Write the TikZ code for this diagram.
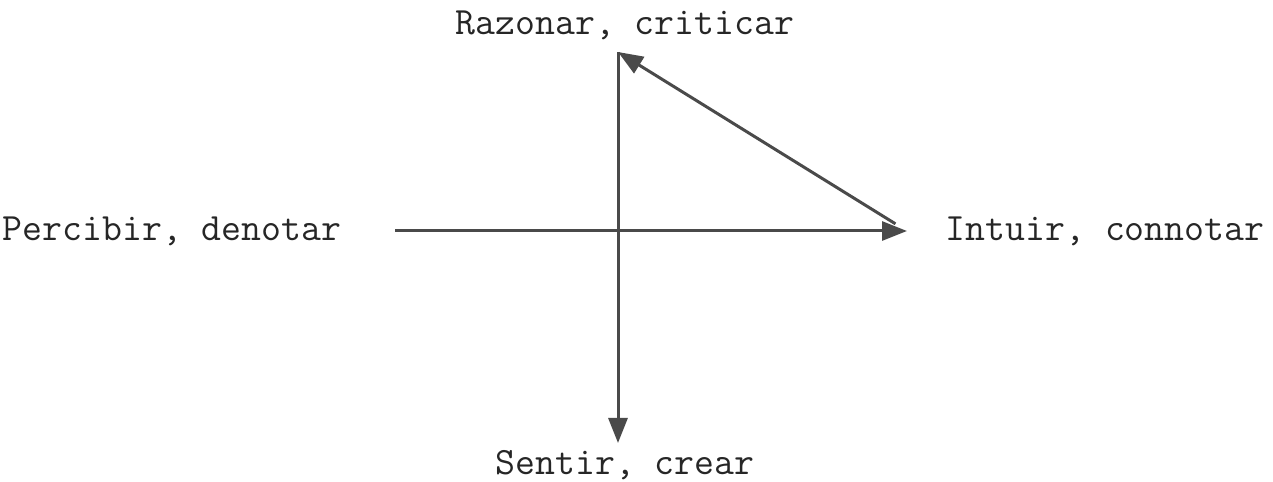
\documentclass[tikz,border=0pt]{standalone}
\usepackage{tikz}
\usetikzlibrary{arrows.meta,calc}
\definecolor{ink}{HTML}{4A4A4A}

\begin{document}
\begin{tikzpicture}[
  x=0.02cm, y=0.02cm,
  font=\ttfamily\fontsize{22}{26}\selectfont,
  label/.style={text=black!85, inner sep=0pt},
  axis/.style={draw=ink, line width=1.7pt,
               -{Triangle[length=0.5cm,width=0.38cm]}},
]
\useasboundingbox (0,0) rectangle (1273,482);

% Ends of the two axes.
\coordinate (west)  at (395,251);
\coordinate (east)  at (907,251);
\coordinate (north) at (618,430);
\coordinate (south) at (618,39);

% The four functions.
\node[label] (razonar)  at (625,457) {Razonar, criticar};
\node[label] (percibir) at (172,251) {Percibir, denotar};
\node[label] (intuir)   at (1105,251) {Intuir, connotar};
\node[label] (sentir)   at (625,17)  {Sentir, crear};

% Axes and the return stroke.
\draw[axis] (west) -- (east);
\draw[axis] (north) -- (south);
\draw[axis] ($(east)!0.04!(north)$) -- (north);
\end{tikzpicture}
\end{document}
